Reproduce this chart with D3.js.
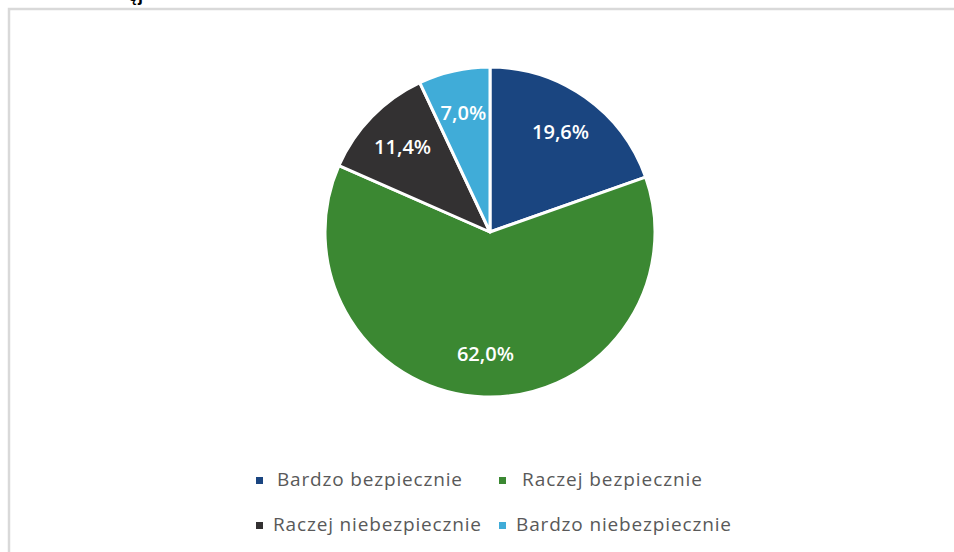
<!DOCTYPE html>
<html>
<head>
<meta charset="utf-8">
<script src="https://cdn.jsdelivr.net/npm/d3@7"></script>
<style>
  body { margin: 0; background: #fff; }
  svg { display: block; }
</style>
</head>
<body>
<div id="chart"></div>
<script>
// Data
const categories = ["Bardzo bezpiecznie", "Raczej bezpiecznie", "Raczej niebezpiecznie", "Bardzo niebezpiecznie"];
const values = [19.6, 62.0, 11.4, 7.0];
const colors = ["#1a4580", "#3b8832", "#333132", "#40acd8"];

const W = 954, H = 552;
const cx = 490, cy = 232, radius = 165;

const svg = d3.select("#chart")
    .append("svg")
    .attr("width", W)
    .attr("height", H);

// chart frame (cut off at right / bottom)
svg.append("rect")
    .attr("x", 9)
    .attr("y", 9)
    .attr("width", W + 20)
    .attr("height", H + 20)
    .attr("fill", "none")
    .attr("stroke", "#d9d9d9")
    .attr("stroke-width", 2.5);

// bit of a heading cut off above the frame
svg.append("text")
    .attr("x", 128)
    .attr("y", 1)
    .attr("font-family", "Liberation Sans, Arial, sans-serif")
    .attr("font-weight", "bold")
    .attr("font-size", 18)
    .attr("fill", "#000")
    .text("ęj");

const color = d3.scaleOrdinal().domain(categories).range(colors);

const pie = d3.pie()
    .value(d => d.value)
    .sort(null);

const data = categories.map((c, i) => ({ name: c, value: values[i] }));

const arc = d3.arc().innerRadius(0).outerRadius(radius);
const labelArc = d3.arc().innerRadius(radius * 0.74).outerRadius(radius * 0.74);

const g = svg.append("g")
    .attr("transform", `translate(${cx},${cy})`);

g.selectAll("path")
    .data(pie(data))
    .enter()
    .append("path")
    .attr("d", arc)
    .attr("fill", d => color(d.data.name))
    .attr("stroke", "#fff")
    .attr("stroke-width", 3)
    .attr("stroke-linejoin", "round");

// percentage labels
const fmt = v => v.toFixed(1).replace(".", ",") + "%";
g.selectAll("text.lbl")
    .data(pie(data))
    .enter()
    .append("text")
    .attr("class", "lbl")
    .attr("transform", d => `translate(${labelArc.centroid(d)})`)
    .attr("text-anchor", "middle")
    .attr("dy", "0.35em")
    .attr("font-family", "Open Sans, Liberation Sans, sans-serif")
    .attr("font-weight", 600)
    .attr("font-size", 20)
    .attr("fill", "#fff")
    .text(d => fmt(d.data.value));

// Legend (2 x 2)
const colX = [256, 499];
const rowY = [480, 525];
const textW = [185, 180, 208, 215];
const legend = svg.append("g");
const item = legend.selectAll("g")
    .data(data)
    .enter()
    .append("g")
    .attr("transform", (d, i) => `translate(${colX[i % 2]},${rowY[Math.floor(i / 2)]})`);

item.append("rect")
    .attr("x", 0)
    .attr("y", -3)
    .attr("width", 7)
    .attr("height", 7)
    .attr("fill", d => color(d.name));

item.append("text")
    .attr("x", (d, i) => i === 0 ? 21 : (i === 1 ? 23 : 17))
    .attr("y", 6)
    .attr("font-family", "Open Sans, Liberation Sans, sans-serif")
    .attr("font-size", 19)
    .attr("fill", "#595959")
    .attr("textLength", (d, i) => textW[i])
    .attr("lengthAdjust", "spacing")
    .text(d => d.name);
</script>
</body>
</html>
